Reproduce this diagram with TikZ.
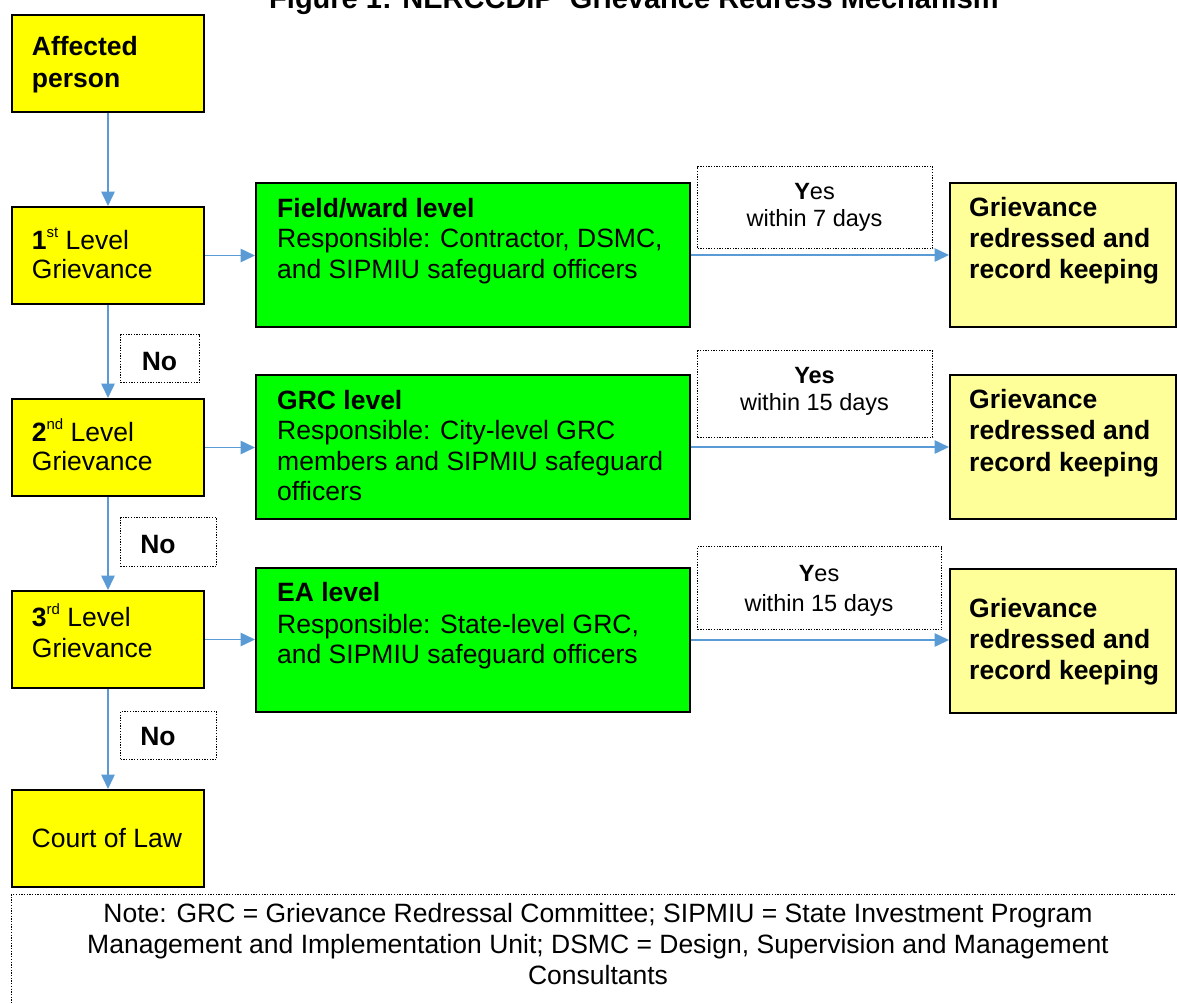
\documentclass[tikz,border=0pt]{standalone}
\usepackage{fontspec}
\setmainfont{Liberation Sans}
\usetikzlibrary{arrows.meta}
\definecolor{ylw}{HTML}{FFFF00}
\definecolor{grn}{HTML}{00FF00}
\definecolor{lyl}{HTML}{FFFF99}
\definecolor{arr}{HTML}{5B9BD5}
\newcommand\supx[1]{\raisebox{0.42em}{\fontsize{15}{15}\selectfont #1}}
\begin{document}
\begin{tikzpicture}[x=1pt,y=-1pt,
  box/.style={draw=black, line width=2pt, inner sep=0pt, anchor=north west},
  ybox/.style={box, fill=ylw, minimum width=192pt, minimum height=97pt},
  gbox/.style={box, fill=grn, minimum width=434pt, minimum height=144pt},
  rbox/.style={box, fill=lyl, minimum width=226pt, minimum height=144pt},
  dbox/.style={draw=black, line width=1.3pt, dash pattern=on 1.3pt off 1.4pt, inner sep=0pt, anchor=north west},
  txt/.style={anchor=base west, inner sep=0pt, font=\fontsize{26.5}{30}\selectfont},
  btxt/.style={txt, font=\bfseries\fontsize{26.5}{30}\selectfont},
  ytxt/.style={anchor=base, inner sep=0pt, font=\fontsize{23.5}{27}\selectfont},
  ntxt/.style={anchor=base, inner sep=0pt, font=\fontsize{26.5}{30}\selectfont},
  flow/.style={draw=arr, line width=1.5pt, -{Triangle[length=14.5pt,width=13.5pt]}},
]
\useasboundingbox (0,0) rectangle (1177,1002);
\clip (0,0) rectangle (1177,1002);

% title
\node[anchor=base, inner sep=0pt, font=\bfseries\fontsize{29}{33}\selectfont] (title) at (634,8) {Figure 1: NERCCDIP\ \ Grievance Redress Mechanism};

% left column
\node[ybox] (aff) at (11,14) {};
\node[ybox] (l1) at (11,206) {};
\node[ybox] (l2) at (11,398) {};
\node[ybox] (l3) at (11,590) {};
\node[ybox] (court) at (11,789) {};

% green boxes
\node[gbox] (g1) at (255,182) {};
\node[gbox] (g2) at (255,374) {};
\node[gbox] (g3) at (255,567) {};

% result boxes
\node[rbox] (r1) at (949,182) {};
\node[rbox] (r2) at (949,374) {};
\node[rbox] (r3) at (949,568) {};

% dotted label boxes
\node[dbox, minimum width=79pt, minimum height=48pt] (no1) at (120,334) {};
\node[dbox, minimum width=96pt, minimum height=49pt] (no2) at (120,517) {};
\node[dbox, minimum width=96pt, minimum height=48pt] (no3) at (120,711) {};
\node[dbox, minimum width=235pt, minimum height=82pt] (yes1) at (697,166) {};
\node[dbox, minimum width=235pt, minimum height=87pt] (yes2) at (697,350) {};
\node[dbox, minimum width=244pt, minimum height=83pt] (yes3) at (697,546) {};
\node[dbox, minimum width=1180pt, minimum height=130pt] (note) at (10.5,894) {};

% texts left column
\node[btxt] (affa) at (31.7,55) {Affected};
\node[btxt] (affb) at (31.7,87) {person};
\node[txt] (l1a) at (31.7,249) {{\bfseries 1}\supx{st} Level};
\node[txt] (l1b) at (31.7,278) {Grievance};
\node[txt] (l2a) at (31.7,441) {{\bfseries 2}\supx{nd} Level};
\node[txt] (l2b) at (31.7,470) {Grievance};
\node[txt] (l3a) at (31.7,626) {{\bfseries 3}\supx{rd} Level};
\node[txt] (l3b) at (31.7,657) {Grievance};
\node[txt] (courta) at (31.5,847) {Court of Law};

% texts green
\node[btxt] (g1a) at (277,217) {Field/ward level};
\node[txt] (g1b) at (277,247) {Responsible: Contractor, DSMC,};
\node[txt] (g1c) at (277,278) {and SIPMIU safeguard officers};
\node[btxt] (g2a) at (277,409) {GRC level};
\node[txt] (g2b) at (277,439) {Responsible: City-level GRC};
\node[txt] (g2c) at (277,470) {members and SIPMIU safeguard};
\node[txt] (g2d) at (277,500) {officers};
\node[btxt] (g3a) at (277,601) {EA level};
\node[txt] (g3b) at (277,633) {Responsible: State-level GRC,};
\node[txt] (g3c) at (277,663) {and SIPMIU safeguard officers};

% texts results
\node[btxt] (r1a) at (969,216) {Grievance};
\node[btxt] (r1b) at (969,247) {redressed and};
\node[btxt] (r1c) at (969,278) {record keeping};
\node[btxt] (r2a) at (969,408) {Grievance};
\node[btxt] (r2b) at (969,439) {redressed and};
\node[btxt] (r2c) at (969,471) {record keeping};
\node[btxt] (r3a) at (969,617) {Grievance};
\node[btxt] (r3b) at (969,648) {redressed and};
\node[btxt] (r3c) at (969,679) {record keeping};

% yes labels
\node[ytxt] (y1a) at (814.5,199) {{\bfseries Y}es};
\node[ytxt] (y1b) at (814.5,226) {within 7 days};
\node[ytxt] (y2a) at (814.5,383) {\bfseries Yes};
\node[ytxt] (y2b) at (814.5,410) {within 15 days};
\node[ytxt] (y3a) at (819,581) {{\bfseries Y}es};
\node[ytxt] (y3b) at (819,611) {within 15 days};

% no labels
\node[ntxt, font=\bfseries\fontsize{26.5}{30}\selectfont] (n1a) at (159.5,370) {No};
\node[ntxt, font=\bfseries\fontsize{26.5}{30}\selectfont] (n2a) at (158,553) {No};
\node[ntxt, font=\bfseries\fontsize{26.5}{30}\selectfont] (n3a) at (158,745) {No};

% note text
\node[ntxt] (nt1) at (598,922) {Note: GRC = Grievance Redressal Committee; SIPMIU = State Investment Program};
\node[ntxt] (nt2) at (598,953) {Management and Implementation Unit; DSMC = Design, Supervision and Management};
\node[ntxt] (nt3) at (598,984) {Consultants};

% connectors
\draw[flow] (aff.south) -- (l1.north);
\draw[flow] (l1.south) -- (l2.north);
\draw[flow] (l2.south) -- (l3.north);
\draw[flow] (l3.south) -- (court.north);
\draw[flow] (l1.east) -- (l1.east -| g1.west);
\draw[flow] (l2.east) -- (l2.east -| g2.west);
\draw[flow] (l3.east) -- (l3.east -| g3.west);
\draw[flow] (g1.east) -- (g1.east -| r1.west);
\draw[flow] (g2.east) -- (g2.east -| r2.west);
\draw[flow] (g3.east) -- (g3.east -| r3.west);
\end{tikzpicture}
\end{document}
